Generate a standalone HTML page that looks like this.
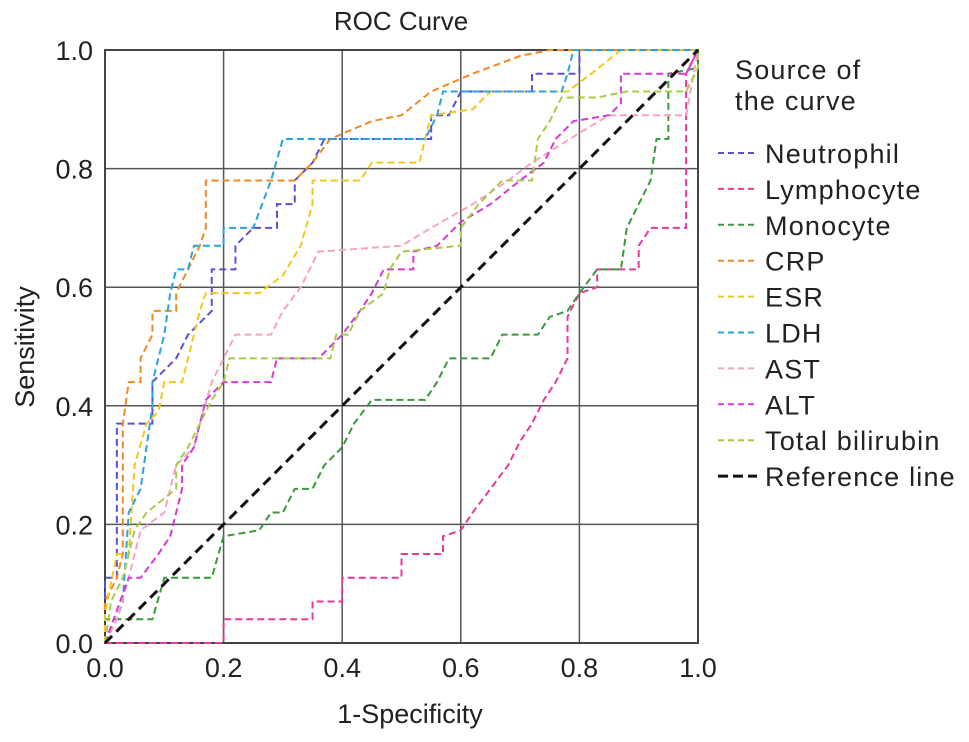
<!DOCTYPE html>
<html><head><meta charset="utf-8"><style>
body{margin:0;background:#fff;}
svg{display:block;font-family:"Liberation Sans",Arial,sans-serif;}
</style></head><body>
<svg id="chart" width="969" height="742">
<text x="401" y="30" font-size="26" text-anchor="middle" fill="#222">ROC Curve</text>
<text x="410" y="723" font-size="27" text-anchor="middle" fill="#222">1-Specificity</text>
<text transform="translate(34,347) rotate(-90)" font-size="27" text-anchor="middle" fill="#222">Sensitivity</text>
<g id="grid"></g><g id="series"></g><g id="legend"></g>
</svg>
<script>
const ticks=[0,0.2,0.4,0.6,0.8,1.0];
const tickLabels=["0.0","0.2","0.4","0.6","0.8","1.0"];
const seriesNames=["Neutrophil","Lymphocyte","Monocyte","CRP","ESR","LDH","AST","ALT","Total bilirubin"];
const seriesColors=["#5b4fd6","#e8389c","#3a9a3a","#f08a24","#f2c81c","#29a3de","#f5a3c8","#d63ad6","#a8cc44"];
const neutrophilFpr=[0,0,0.02,0.02,0.08,0.08,0.12,0.14,0.18,0.18,0.22,0.22,0.25,0.29,0.29,0.32,0.32,0.35,0.37,0.55,0.55,0.58,0.6,0.72,0.72,0.8,0.8,1];
const neutrophilTpr=[0,0.11,0.11,0.37,0.37,0.44,0.48,0.52,0.56,0.63,0.63,0.67,0.70,0.70,0.74,0.74,0.78,0.81,0.85,0.85,0.89,0.89,0.93,0.93,0.96,0.96,1,1];
const lymphocyteFpr=[0,0.2,0.2,0.35,0.35,0.4,0.4,0.5,0.5,0.57,0.57,0.6,0.62,0.65,0.68,0.7,0.72,0.74,0.76,0.78,0.78,0.8,0.83,0.83,0.9,0.9,0.92,0.98,0.98,1];
const lymphocyteTpr=[0,0,0.04,0.04,0.07,0.07,0.11,0.11,0.15,0.15,0.18,0.19,0.22,0.26,0.30,0.34,0.37,0.41,0.44,0.48,0.55,0.59,0.60,0.63,0.63,0.67,0.70,0.70,0.96,1];
const monocyteFpr=[0,0,0.08,0.1,0.18,0.2,0.26,0.28,0.3,0.32,0.35,0.37,0.4,0.42,0.45,0.54,0.56,0.58,0.65,0.67,0.73,0.75,0.78,0.8,0.83,0.87,0.88,0.9,0.92,0.93,0.95,0.95,1,1];
const monocyteTpr=[0,0.04,0.04,0.11,0.11,0.18,0.19,0.22,0.22,0.26,0.26,0.30,0.33,0.37,0.41,0.41,0.44,0.48,0.48,0.52,0.52,0.55,0.56,0.59,0.63,0.63,0.70,0.74,0.78,0.85,0.85,0.96,0.97,1];
const crpFpr=[0,0,0.02,0.03,0.03,0.04,0.06,0.06,0.08,0.08,0.12,0.12,0.14,0.16,0.17,0.17,0.32,0.35,0.38,0.45,0.5,0.55,0.62,0.7,0.75,1];
const crpTpr=[0,0.07,0.11,0.15,0.37,0.44,0.44,0.48,0.52,0.56,0.56,0.59,0.63,0.67,0.70,0.78,0.78,0.81,0.85,0.88,0.89,0.93,0.96,0.99,1,1];
const esrFpr=[0,0,0.02,0.04,0.05,0.07,0.09,0.1,0.13,0.14,0.15,0.16,0.17,0.26,0.3,0.33,0.35,0.35,0.43,0.45,0.53,0.55,0.62,0.65,0.78,0.82,0.87,1];
const esrTpr=[0,0.05,0.15,0.15,0.30,0.37,0.39,0.44,0.44,0.48,0.52,0.56,0.59,0.59,0.62,0.67,0.74,0.78,0.78,0.81,0.81,0.89,0.90,0.93,0.93,0.96,1,1];
const ldhFpr=[0,0.02,0.03,0.04,0.06,0.07,0.08,0.08,0.1,0.11,0.12,0.14,0.15,0.2,0.2,0.25,0.28,0.3,0.54,0.56,0.57,0.77,0.78,0.79,1];
const ldhTpr=[0,0.04,0.07,0.22,0.26,0.33,0.40,0.44,0.52,0.59,0.63,0.63,0.67,0.67,0.70,0.70,0.78,0.85,0.85,0.89,0.93,0.93,0.96,1,1];
const astFpr=[0,0.02,0.04,0.06,0.1,0.12,0.15,0.16,0.18,0.2,0.22,0.28,0.3,0.33,0.36,0.5,0.55,0.62,0.68,0.72,0.8,0.85,0.98,1];
const astTpr=[0,0.04,0.11,0.19,0.22,0.30,0.33,0.37,0.44,0.48,0.52,0.52,0.56,0.60,0.66,0.67,0.70,0.74,0.78,0.81,0.86,0.89,0.89,1];
const altFpr=[0,0.04,0.06,0.09,0.11,0.12,0.13,0.13,0.15,0.16,0.17,0.2,0.28,0.29,0.36,0.38,0.4,0.43,0.45,0.47,0.52,0.52,0.56,0.6,0.65,0.7,0.74,0.76,0.79,0.85,0.87,0.87,0.98,1];
const altTpr=[0,0.11,0.11,0.15,0.18,0.22,0.26,0.30,0.33,0.37,0.41,0.44,0.44,0.48,0.48,0.50,0.52,0.56,0.59,0.63,0.63,0.66,0.67,0.71,0.74,0.78,0.81,0.85,0.88,0.89,0.91,0.96,0.96,1];
const bilirubinFpr=[0,0.01,0.03,0.05,0.07,0.12,0.12,0.14,0.16,0.18,0.2,0.21,0.38,0.39,0.41,0.43,0.47,0.48,0.5,0.6,0.6,0.63,0.67,0.72,0.73,0.75,0.77,0.83,0.88,0.98,1,1];
const bilirubinTpr=[0,0.07,0.11,0.19,0.22,0.26,0.30,0.33,0.37,0.41,0.44,0.48,0.48,0.52,0.52,0.56,0.59,0.63,0.66,0.67,0.70,0.74,0.78,0.78,0.85,0.88,0.92,0.92,0.93,0.93,0.97,1];
const seriesFpr=[neutrophilFpr,lymphocyteFpr,monocyteFpr,crpFpr,esrFpr,ldhFpr,astFpr,altFpr,bilirubinFpr];
const seriesTpr=[neutrophilTpr,lymphocyteTpr,monocyteTpr,crpTpr,esrTpr,ldhTpr,astTpr,altTpr,bilirubinTpr];
const refLine=[0,1];

const NS="http://www.w3.org/2000/svg";
const X0=105,X1=698,Y0=643,Y1=50;
function sx(v){return X0+v*(X1-X0);}
function sy(v){return Y0-v*(Y0-Y1);}
function mk(tag,attrs,parent){const e=document.createElementNS(NS,tag);for(const k in attrs)e.setAttribute(k,attrs[k]);parent.appendChild(e);return e;}
const grid=document.getElementById('grid');
ticks.forEach((t,i)=>{
  const vl=mk('line',{x1:sx(t),x2:sx(t),y1:Y1,y2:Y0,stroke:'#555','stroke-width':1.5},grid);
  
  
  const hl=mk('line',{x1:X0,x2:X1,y1:sy(t),y2:sy(t),stroke:'#555','stroke-width':1.5},grid);
  
  
  const xt=mk('text',{x:sx(t),y:Y0+34,'font-size':27,'text-anchor':'middle',fill:'#222'},grid);
  xt.textContent=tickLabels[i];
  
  
  const yt=mk('text',{x:X0-12,y:sy(t)+10,'font-size':27,'text-anchor':'end',fill:'#222'},grid);
  yt.textContent=tickLabels[i];
  
  
});
const frame=mk('rect',{x:X0,y:Y1,width:X1-X0,height:Y0-Y1,fill:'none',stroke:'#444','stroke-width':2},grid);


const sg=document.getElementById('series');
seriesNames.forEach((n,i)=>{
  const pts=seriesFpr[i].map((f,j)=>sx(f)+','+sy(seriesTpr[i][j])).join(' ');
  const pl=mk('polyline',{points:pts,fill:'none',stroke:seriesColors[i],'stroke-width':2,'stroke-dasharray':'7,4'},sg);
  
  
});
const rl=mk('line',{x1:sx(refLine[0]),y1:sy(refLine[0]),x2:sx(refLine[1]),y2:sy(refLine[1]),stroke:'#111','stroke-width':3,'stroke-dasharray':'10,6'},sg);


const lg=document.getElementById('legend');
const t1=mk('text',{x:735,y:79,'font-size':27,fill:'#222','letter-spacing':1.2},lg);t1.textContent='Source of';


const t2=mk('text',{x:735,y:110,'font-size':27,fill:'#222','letter-spacing':1.2},lg);t2.textContent='the curve';


const names=seriesNames.concat(['Reference line']);
const cols=seriesColors.concat(['#111']);
names.forEach((n,i)=>{
  const y=153+i*35.9;
  const g=mk('g',{},lg);
  
  
  mk('line',{x1:718,x2:757,y1:y,y2:y,stroke:cols[i],'stroke-width':i==9?3:2,'stroke-dasharray':i==9?'10,5':'6,4'},g);
  const t=mk('text',{x:765,y:y+10,'font-size':27,fill:'#222','letter-spacing':1.2},g);t.textContent=n;
});
</script>
</body></html>
